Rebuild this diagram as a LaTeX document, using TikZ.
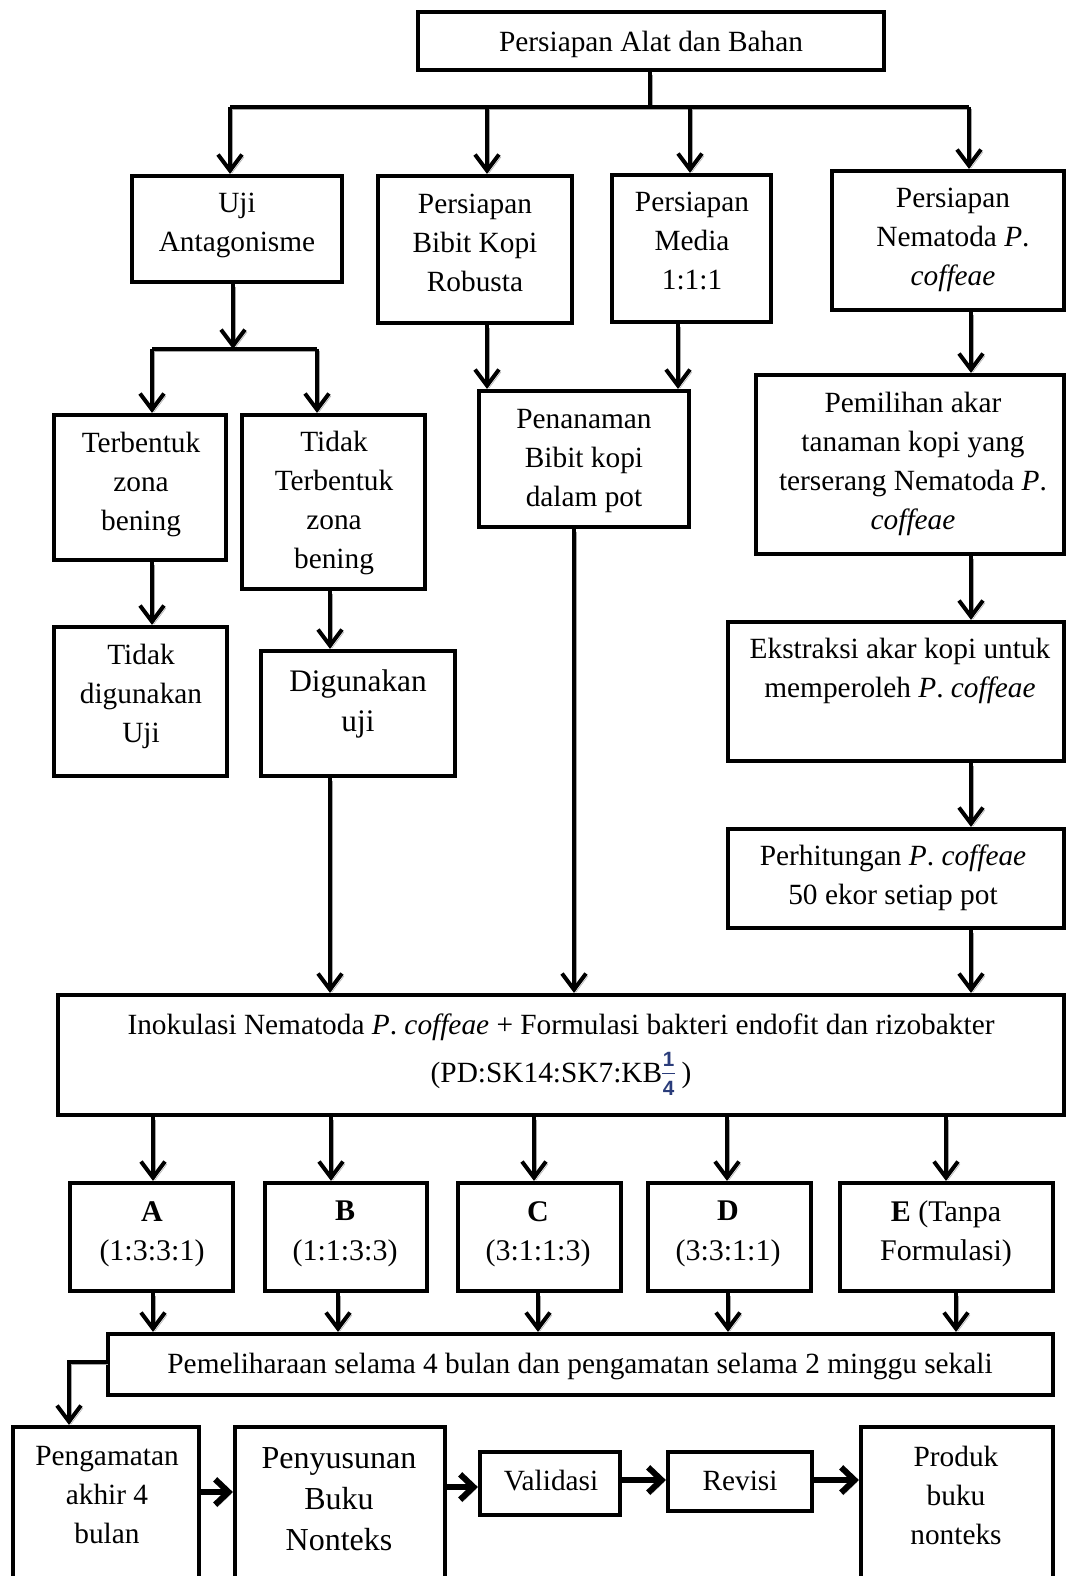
\documentclass[tikz,border=0pt]{standalone}
\usepackage{fontspec}
\setmainfont{Liberation Serif}
\newfontfamily\fracfont{Liberation Sans}
\usetikzlibrary{arrows.meta}
\definecolor{fracc}{HTML}{2A3C7A}
\tikzset{
  box/.style={draw=black, line width=3.2pt, fill=white, inner sep=0pt},
  txt/.style={align=center, inner sep=0pt, font=\fontsize{22}{29.25}\selectfont},
  midtxt/.style={align=center, inner sep=0pt, font=\fontsize{22.5}{29.5}\selectfont},
  bigtxt/.style={align=center, inner sep=0pt, font=\fontsize{23.5}{30}\selectfont},
  hugetxt/.style={align=center, inner sep=0pt, font=\fontsize{24}{30.75}\selectfont},
  shd/.style={preaction={draw=black!35, transform canvas={shift={(1.5pt,-1.8pt)}}}},
  con/.style={line width=3pt, shd},
  arr/.style={con, -{Straight Barb[length=12pt,width=18pt]}},
  harr/.style={line width=4.5pt, shd, -{Straight Barb[length=10pt,width=19pt]}},
}
\newcommand\mkbox[5]{%
  \pgfmathsetmacro\mkBW{(#4-#2)*0.75}%
  \pgfmathsetmacro\mkBH{(#5-#3)*0.75}%
  \node[box, minimum width=\mkBW pt, minimum height=\mkBH pt] (#1) at ({(#2+#4)/2},{(#3+#5)/2}) {};}
\newcommand\frq{\raisebox{-9.75pt}{\fracfont\bfseries\fontsize{15.5}{15.5}\selectfont\color{fracc}%
  \vbox{\offinterlineskip\hbox to 9.5pt{\hss 1\hss}\kern5pt\hrule height 1pt\kern5pt\hbox to 9.5pt{\hss 4\hss}}}}
\begin{document}
\begin{tikzpicture}[x=0.75pt,y=-0.75pt]
\useasboundingbox (0,0) rectangle (1067,1576);
\clip (0,0) rectangle (1067,1576);
\fill[white] (0,0) rectangle (1067,1576);

% ---------- boxes ----------
\mkbox{top}{418}{12}{884}{70}
\mkbox{uji}{132}{176}{342}{282}
\mkbox{bibit}{378}{176}{572}{323}
\mkbox{media}{612}{175}{771}{322}
\mkbox{nema}{832}{171}{1064}{310}
\mkbox{terb}{54}{415}{226}{560}
\mkbox{tterb}{242}{415}{425}{589}
\mkbox{tdig}{54}{627}{227}{776}
\mkbox{dig}{261}{651}{455}{776}
\mkbox{tanam}{479}{391}{689}{527}
\mkbox{pilih}{756}{375}{1064}{554}
\mkbox{ekstr}{728}{622}{1064}{761}
\mkbox{hitung}{728}{829}{1064}{928}
\mkbox{inok}{58}{995}{1064}{1115}
\mkbox{A}{70}{1183}{233}{1291}
\mkbox{B}{265}{1183}{427}{1291}
\mkbox{C}{458}{1183}{621}{1291}
\mkbox{D}{648}{1183}{811}{1291}
\mkbox{E}{840}{1183}{1053}{1291}
\mkbox{pemel}{108}{1334}{1053}{1395}
\mkbox{peng}{13}{1427}{199}{1620}
\mkbox{susun}{235}{1427}{445}{1620}
\mkbox{valid}{480}{1452}{620}{1515}
\mkbox{revisi}{668}{1452}{812}{1511}
\mkbox{produk}{861}{1427}{1053}{1620}

% ---------- texts ----------
\node[txt] (top-t) at (651,44) {Persiapan Alat dan Bahan};
\node[txt] (uji-t) at (237,225) {Uji\\Antagonisme};
\node[txt] (bibit-t) at (475,243) {Persiapan\\Bibit Kopi\\Robusta};
\node[txt] (media-t) at (692,241) {Persiapan\\Media\\1:1:1};
\node[txt] (nema-t) at (953,240) {Persiapan\\Nematoda \textit{P}.\\\textit{coffeae}};
\node[txt] (terb-t) at (141,484) {Terbentuk\\zona\\bening};
\node[txt] (tterb-t) at (334,503) {Tidak\\Terbentuk\\zona\\bening};
\node[txt] (tdig-t) at (141,696) {Tidak\\digunakan\\Uji};
\node[bigtxt] (dig-t) at (358,704) {Digunakan\\uji};
\node[txt] (tanam-t) at (584,461) {Penanaman\\Bibit kopi\\dalam pot};
\node[txt] (pilih-t) at (913,464) {Pemilihan akar\\tanaman kopi yang\\terserang Nematoda \textit{P}.\\\textit{coffeae}};
\node[txt] (ekstr-t) at (900,671) {Ekstraksi akar kopi untuk\\memperoleh \textit{P}. \textit{coffeae}};
\node[txt] (hitung-t) at (893,878) {Perhitungan \textit{P}. \textit{coffeae}\\50 ekor setiap pot};
\node[txt] (inok-t1) at (561,1027) {Inokulasi Nematoda \textit{P}. \textit{coffeae} + Formulasi bakteri endofit dan rizobakter};
\node[txt, anchor=base] (inok-t2) at (561,1082) {(PD:SK14:SK7:KB\frq\hspace{5pt})};
\node[midtxt] (A-t) at (152,1234) {\textbf{A}\\(1:3:3:1)};
\node[midtxt] (B-t) at (345,1234) {\textbf{B}\\(1:1:3:3)};
\node[midtxt] (C-t) at (538,1234) {\textbf{C}\\(3:1:1:3)};
\node[midtxt] (D-t) at (728,1234) {\textbf{D}\\(3:3:1:1)};
\node[midtxt] (E-t) at (946,1234) {\textbf{E} (Tanpa\\Formulasi)};
\node[txt] (pemel-t) at (580,1366) {Pemeliharaan selama 4 bulan dan pengamatan selama 2 minggu sekali};
\node[txt] (peng-t) at (107,1495) {Pengamatan\\akhir 4\\bulan};
\node[hugetxt] (susun-t) at (339,1499) {Penyusunan\\Buku\\Nonteks};
\node[txt] (valid-t) at (551,1481) {Validasi};
\node[txt] (revisi-t) at (740,1481) {Revisi};
\node[txt] (produk-t) at (956,1495) {Produk\\buku\\nonteks};

% ---------- coordinates ----------
\coordinate (stem) at (650,107);
\coordinate (barL) at (230,107);
\coordinate (barR) at (969,107);
\coordinate (xb) at (487,107);
\coordinate (xm) at (690,107);
\coordinate (uj) at (233,349);
\coordinate (ujL) at (152,349);
\coordinate (ujR) at (317,349);
\coordinate (x330) at (330,0);
\coordinate (x487) at (487,0);
\coordinate (x678) at (678,0);
\coordinate (x574) at (574,0);
\coordinate (x971) at (971,0);
\coordinate (a1) at (153,0);
\coordinate (a2) at (331,0);
\coordinate (a3) at (534,0);
\coordinate (a4) at (727,0);
\coordinate (a5) at (946,0);
\coordinate (b1) at (153,0);
\coordinate (b2) at (338,0);
\coordinate (b3) at (538,0);
\coordinate (b4) at (728,0);
\coordinate (b5) at (956,0);
\coordinate (lc) at (69,1362);
\coordinate (h1) at (0,1492);
\coordinate (h2) at (0,1487);
\coordinate (h3) at (0,1480);

% ---------- connectors ----------
\draw[con] (top.south -| stem) -- (stem);
\draw[con] (barL) -- (barR);
\draw[arr] (barL) -- (barL |- uji.north);
\draw[arr] (xb) -- (xb |- bibit.north);
\draw[arr] (xm) -- (xm |- media.north);
\draw[arr] (barR) -- (barR |- nema.north);

\draw[arr] (uji.south -| uj) -- (uj);
\draw[con] (ujL) -- (ujR);
\draw[arr] (ujL) -- (ujL |- terb.north);
\draw[arr] (ujR) -- (ujR |- tterb.north);
\draw[arr] (terb.south -| ujL) -- (tdig.north -| ujL);
\draw[arr] (tterb.south -| x330) -- (dig.north -| x330);
\draw[arr] (dig.south -| x330) -- (inok.north -| x330);

\draw[arr] (bibit.south -| x487) -- (tanam.north -| x487);
\draw[arr] (media.south -| x678) -- (tanam.north -| x678);
\draw[arr] (tanam.south -| x574) -- (inok.north -| x574);

\draw[arr] (nema.south -| x971) -- (pilih.north -| x971);
\draw[arr] (pilih.south -| x971) -- (ekstr.north -| x971);
\draw[arr] (ekstr.south -| x971) -- (hitung.north -| x971);
\draw[arr] (hitung.south -| x971) -- (inok.north -| x971);

\draw[arr] (inok.south -| a1) -- (A.north -| a1);
\draw[arr] (inok.south -| a2) -- (B.north -| a2);
\draw[arr] (inok.south -| a3) -- (C.north -| a3);
\draw[arr] (inok.south -| a4) -- (D.north -| a4);
\draw[arr] (inok.south -| a5) -- (E.north -| a5);

\draw[arr] (A.south -| b1) -- (pemel.north -| b1);
\draw[arr] (B.south -| b2) -- (pemel.north -| b2);
\draw[arr] (C.south -| b3) -- (pemel.north -| b3);
\draw[arr] (D.south -| b4) -- (pemel.north -| b4);
\draw[arr] (E.south -| b5) -- (pemel.north -| b5);

\draw[arr] (pemel.west |- lc) -- (lc) -- (lc |- peng.north);

\draw[harr] (peng.east |- h1) -- (susun.west |- h1);
\draw[harr] (susun.east |- h2) -- (valid.west |- h2);
\draw[harr] (valid.east |- h3) -- (revisi.west |- h3);
\draw[harr] (revisi.east |- h3) -- (produk.west |- h3);
\end{tikzpicture}
\end{document}
